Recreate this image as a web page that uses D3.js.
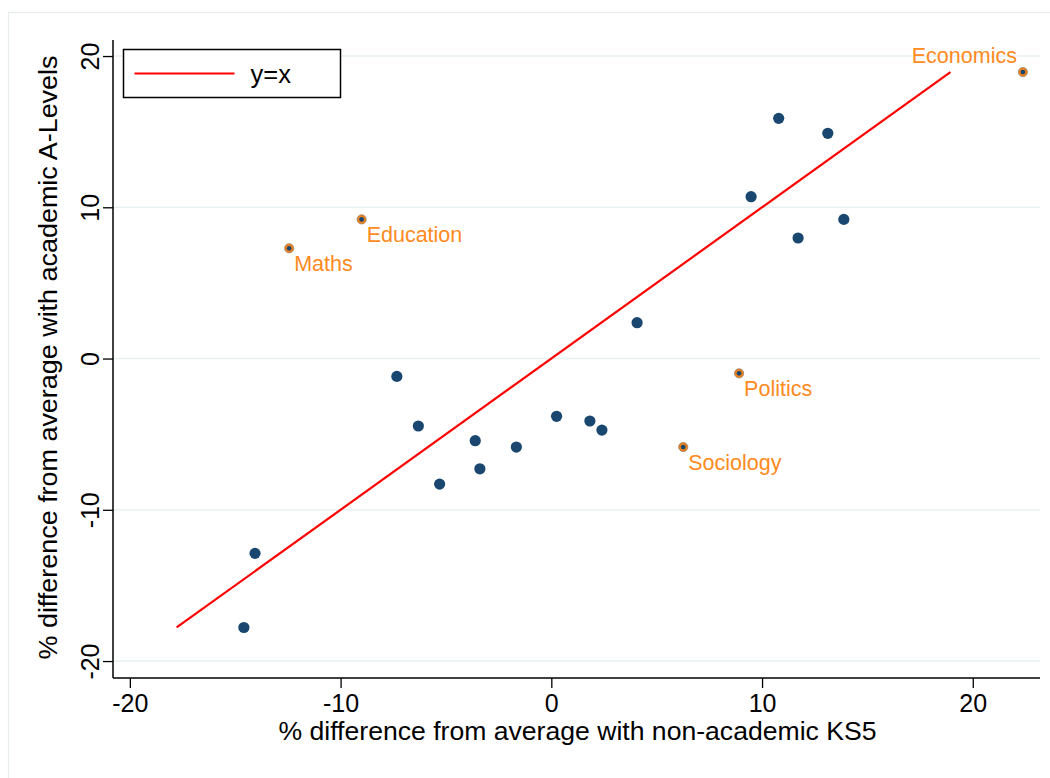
<!DOCTYPE html>
<html>
<head>
<meta charset="utf-8">
<script src="https://cdn.jsdelivr.net/npm/d3@7"></script>
<style>
  html, body { margin: 0; padding: 0; background: #ffffff; }
  svg { display: block; font-family: "Liberation Sans", Arial, Helvetica, sans-serif; }
</style>
</head>
<body>
<svg id="chart" width="1050" height="778"></svg>
<script>
// Subject-level differences: non-academic KS5 (x) vs academic A-Levels (y)
const xValues = [-14.59, -14.06, -12.44, -9.00, -7.33, -6.31, -5.30, -3.61, -3.39, -1.66,
                 0.25, 1.83, 2.40, 4.07, 6.26, 8.91, 9.48, 10.79, 11.71, 13.12, 13.88, 22.38];
const yValues = [-17.78, -12.88, 7.29, 9.20, -1.18, -4.46, -8.30, -5.43, -7.29, -5.85,
                 -3.82, -4.13, -4.73, 2.37, -5.85, -0.98, 10.70, 15.88, 7.97, 14.89, 9.20, 18.94];
const pointLabels = ["", "", "Maths", "Education", "", "", "", "", "", "",
                     "", "", "", "", "Sociology", "Politics", "", "", "", "", "", "Economics"];
const xTicks = [-20, -10, 0, 10, 20];
const yTicks = [-20, -10, 0, 10, 20];
const legendText = "y=x";
const xTitle = "% difference from average with non-academic KS5";
const yTitle = "% difference from average with academic A-Levels";

const navy = "#1a476f";
const orange = "#ff8a1d";

const svg = d3.select("#chart");

// outer graph region frame
svg.append("rect")
  .attr("x", 8.5).attr("y", 12.5)
  .attr("width", 1060).attr("height", 780)
  .attr("fill", "#ffffff")
  .attr("stroke", "#e6eced").attr("stroke-width", 1.2);

const plot = { left: 113, right: 1040, top: 40, bottom: 678 };

const x = d3.scaleLinear().domain([-20.80, 23.19]).range([plot.left, plot.right]);
const y = d3.scaleLinear().domain([-21.12, 21.06]).range([plot.bottom, plot.top]);

// horizontal grid lines
svg.append("g")
  .selectAll("line")
  .data(yTicks)
  .join("line")
  .attr("x1", plot.left).attr("x2", plot.right)
  .attr("y1", d => y(d)).attr("y2", d => y(d))
  .attr("stroke", "#e9f1f3").attr("stroke-width", 1.6);

// x axis
const xAxis = svg.append("g")
  .attr("transform", `translate(0,${plot.bottom})`)
  .call(d3.axisBottom(x).tickValues(xTicks).tickSize(10).tickPadding(6)
        .tickFormat(d => d < 0 ? "-" + Math.abs(d) : String(d)));
xAxis.select(".domain").attr("d", `M${plot.left},0H${plot.right}`)
  .attr("stroke", "#000").attr("stroke-width", 1.5);
xAxis.selectAll(".tick line").attr("stroke", "#000").attr("stroke-width", 1.3);
xAxis.selectAll(".tick text").attr("font-size", 25).attr("fill", "#000")
  .attr("font-family", "'Liberation Sans', Arial, sans-serif");

// y axis (vertical tick labels)
const yAxis = svg.append("g")
  .attr("transform", `translate(${plot.left},0)`)
  .call(d3.axisLeft(y).tickValues(yTicks).tickSize(10).tickPadding(0)
        .tickFormat(d => d < 0 ? "-" + Math.abs(d) : String(d)));
yAxis.select(".domain").attr("d", `M0,${plot.top}V${plot.bottom}`)
  .attr("stroke", "#000").attr("stroke-width", 1.5);
yAxis.selectAll(".tick line").attr("stroke", "#000").attr("stroke-width", 1.3);
yAxis.selectAll(".tick text")
  .attr("font-size", 25).attr("fill", "#000")
  .attr("font-family", "'Liberation Sans', Arial, sans-serif")
  .attr("x", null).attr("dy", null)
  .attr("text-anchor", "middle")
  .attr("transform", "translate(-14,0) rotate(-90)");

// axis titles
svg.append("text")
  .attr("x", 577.5).attr("y", 740)
  .attr("text-anchor", "middle").attr("font-size", 25).attr("fill", "#000")
  .attr("textLength", 598).attr("lengthAdjust", "spacingAndGlyphs")
  .text(xTitle);
svg.append("text")
  .attr("transform", `translate(57,357.5) rotate(-90)`)
  .attr("text-anchor", "middle").attr("font-size", 25).attr("fill", "#000")
  .attr("textLength", 604).attr("lengthAdjust", "spacingAndGlyphs")
  .text(yTitle);

// reference line y = x over the range of the outcome
const yExt = d3.extent(yValues);
svg.append("line")
  .attr("x1", x(yExt[0])).attr("y1", y(yExt[0]))
  .attr("x2", x(yExt[1])).attr("y2", y(yExt[1]))
  .attr("stroke", "#ff0000").attr("stroke-width", 2.2);

const pts = xValues.map((v, i) => ({ x: v, y: yValues[i], label: pointLabels[i] }));

// ordinary subjects
svg.append("g")
  .selectAll("circle")
  .data(pts.filter(d => !d.label))
  .join("circle")
  .attr("cx", d => x(d.x)).attr("cy", d => y(d.y))
  .attr("r", 5.6).attr("fill", navy);

// highlighted subjects: orange ring with navy centre
const hl = svg.append("g").selectAll("g")
  .data(pts.filter(d => d.label))
  .join("g")
  .attr("transform", d => `translate(${x(d.x)},${y(d.y)})`);
hl.append("circle").attr("r", 4.6).attr("fill", "#f0821c")
  .attr("stroke", "#8c7a66").attr("stroke-width", 0.7);
hl.append("circle").attr("r", 2.4).attr("fill", navy);
hl.append("text")
  .attr("x", d => d.label === "Economics" ? -6 : 5)
  .attr("y", d => d.label === "Economics" ? -9 : 23)
  .attr("text-anchor", d => d.label === "Economics" ? "end" : "start")
  .attr("font-size", 21.5).attr("fill", orange)
  .text(d => d.label);

// legend
const lg = svg.append("g").attr("transform", "translate(123.5,49.5)");
lg.append("rect").attr("width", 217).attr("height", 48)
  .attr("fill", "#fff").attr("stroke", "#000").attr("stroke-width", 1.5);
lg.append("line").attr("x1", 11).attr("x2", 111).attr("y1", 24).attr("y2", 24)
  .attr("stroke", "#ff0000").attr("stroke-width", 2.2);
lg.append("text").attr("x", 127).attr("y", 33)
  .attr("font-size", 25.5).attr("fill", "#000").text(legendText);
</script>
</body>
</html>
